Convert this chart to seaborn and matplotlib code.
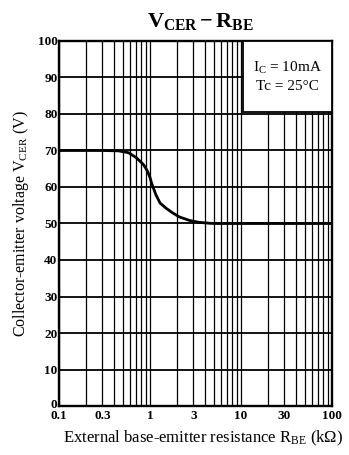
import numpy as np
import pandas as pd
import matplotlib
matplotlib.use("Agg")
import matplotlib.pyplot as plt
from matplotlib.patches import Rectangle
from matplotlib.ticker import FixedLocator, LogLocator, NullFormatter
from matplotlib.transforms import ScaledTranslation
import seaborn as sns

# External base-emitter resistance (kOhm) and collector-emitter voltage (V)
rbe = [0.1, 0.2, 0.3, 0.45, 0.58, 0.71, 0.85, 0.94, 1.0, 1.04, 1.09, 1.16,
       1.29, 1.5, 1.75, 2.1, 2.75, 3.5, 4.6, 5.5, 10, 30, 100]
vcer = [70, 70, 70, 69.9, 69.4, 68.0, 66.1, 64.3, 62.6, 61.1, 59.7, 57.9,
        55.6, 54.2, 53.0, 51.8, 50.8, 50.3, 50.05, 50, 50, 50, 50]

x_ticks = [0.1, 0.3, 1, 3, 10, 30, 100]
x_tick_labels = ["0.1", "0.3", "1", "3", "10", "30", "100"]
y_ticks = [0, 10, 20, 30, 40, 50, 60, 70, 80, 90, 100]
y_tick_labels = [str(v) for v in y_ticks]

df = pd.DataFrame({"rbe": rbe, "vcer": vcer})

sns.set_theme(style="white")
plt.rcParams["font.family"] = ["Liberation Serif", "DejaVu Serif"]
plt.rcParams["mathtext.fontset"] = "custom"
plt.rcParams["mathtext.rm"] = "Liberation Serif"
plt.rcParams["mathtext.it"] = "Liberation Serif:italic"
plt.rcParams["mathtext.bf"] = "Liberation Serif:bold"

fig = plt.figure(figsize=(3.49, 4.55), dpi=100)
ax = fig.add_axes([59 / 349, 49 / 455, 273 / 349, 365 / 455])

sns.lineplot(data=df, x="rbe", y="vcer", ax=ax, color="black", lw=2.0,
             estimator=None, sort=False, solid_joinstyle="round",
             solid_capstyle="round")

ax.set_xscale("log")
ax.set_xlim(0.1, 100)
ax.set_ylim(0, 100)

ax.xaxis.set_major_locator(FixedLocator(x_ticks))
ax.set_xticklabels(x_tick_labels)
ax.xaxis.set_minor_locator(LogLocator(base=10, subs=np.arange(2, 10)))
ax.xaxis.set_minor_formatter(NullFormatter())
ax.set_yticks(y_ticks)
ax.set_yticklabels(y_tick_labels)

ax.grid(True, which="both", axis="x", color="black", lw=0.9)
ax.grid(True, which="major", axis="y", color="black", lw=1.3)
ax.set_axisbelow(True)

for sp in ax.spines.values():
    sp.set_color("black")
    sp.set_linewidth(1.7)

ax.tick_params(axis="x", which="both", length=0, pad=3, colors="black")
ax.tick_params(axis="y", which="both", length=0, pad=1, colors="black")
for lab in ax.get_xticklabels() + ax.get_yticklabels():
    lab.set_fontweight("bold")
    lab.set_fontsize(9.5)

# lift the "0" label slightly so it clears the "0.1" label below it
zero_lab = ax.get_yticklabels()[0]
zero_lab.set_transform(zero_lab.get_transform() +
                       ScaledTranslation(0, 3 / 100, fig.dpi_scale_trans))

ax.set_xlabel(r"External base-emitter resistance R$_{\rm BE}$ (k$\Omega$)",
              fontsize=12, labelpad=7, color="black")
ax.xaxis.set_label_coords((203 - 59) / 273, -0.062)
ax.set_ylabel(r"Collector-emitter voltage V$_{\rm CER}$ (V)",
              fontsize=11.5, labelpad=5, color="black")

fig.text(200 / 349, 1 - 21 / 455, r"$\mathbf{V_{CER}-R_{BE}}$",
         ha="center", va="center", fontsize=16, color="black")

# Condition box flush with the upper right corner
box_x0 = (243 - 59) / 273
box_y0 = (406 - 112) / 365
ax.add_patch(Rectangle((box_x0, box_y0), 1 - box_x0, 1 - box_y0,
                       transform=ax.transAxes, facecolor="white",
                       edgecolor="black", lw=1.3, zorder=3))
ax.text((1 + box_x0) / 2, (1 + box_y0) / 2, "I$_{\\rm C}$ = 10mA\nTc = 25°C",
        transform=ax.transAxes, ha="center", va="center", fontsize=11,
        linespacing=1.45, color="black", zorder=4)

fig.savefig("out.png", dpi=100)
